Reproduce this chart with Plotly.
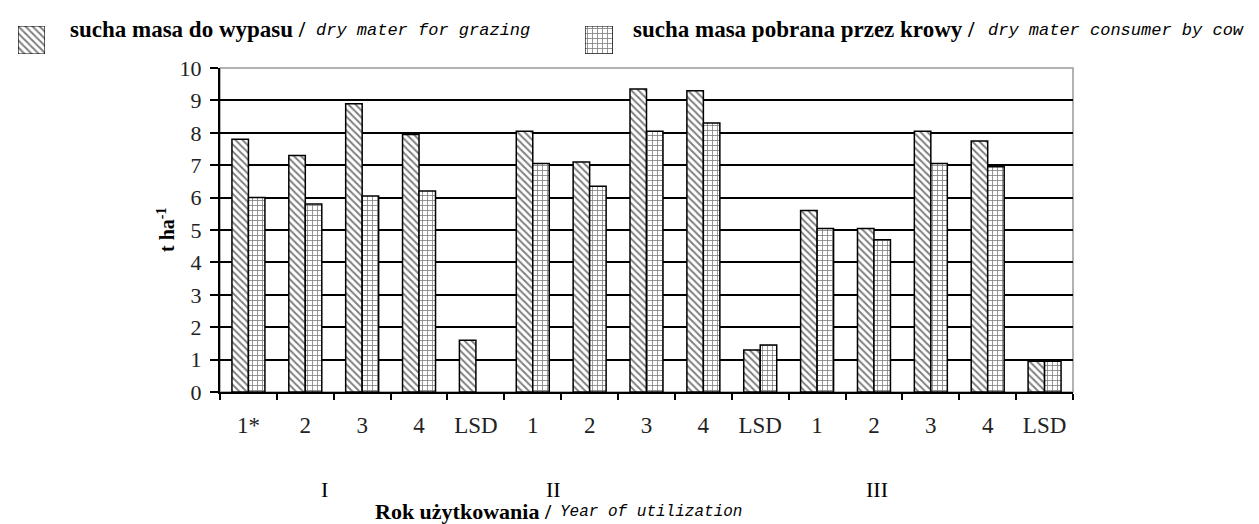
import plotly.graph_objects as go

categories = ["1*", "2", "3", "4", "LSD", "1", "2", "3", "4", "LSD", "1", "2", "3", "4", "LSD"]
grazing = [7.8, 7.3, 8.9, 7.95, 1.6, 8.05, 7.1, 9.35, 9.3, 1.3, 5.6, 5.05, 8.05, 7.75, 0.95]
consumed = [6.0, 5.8, 6.05, 6.2, None, 7.05, 6.35, 8.05, 8.3, 1.45, 5.05, 4.7, 7.05, 6.95, 0.95]
groups = ["I", "II", "III"]
group_pos = [1.33, 5.37, 11.06]
y_ticks = [0, 1, 2, 3, 4, 5, 6, 7, 8, 9, 10]
series_bold = ["sucha masa do wypasu /", "sucha masa pobrana przez krowy /"]
series_italic = ["dry mater for grazing", "dry mater consumer by cow"]

W, H = 1259, 524
xs = list(range(len(categories)))
serif = "Liberation Serif, Times New Roman, serif"
mono = "Liberation Mono, Courier New, monospace"

def fx(px):
    return px / W

def fy(py):
    return 1 - py / H

PL, PR, PT, PB = 212, 1065, 60, 384

diag = dict(shape="\\", fgcolor="black", bgcolor="white", size=5, solidity=0.4)
grid = dict(shape="+", fgcolor="black", bgcolor="white", size=5, solidity=0.3)

fig = go.Figure()
fig.add_trace(go.Bar(
    x=xs, y=grazing, name=series_bold[0] + " " + series_italic[0],
    marker=dict(color="white", line=dict(color="black", width=1.5), pattern=diag),
    showlegend=False,
))
fig.add_trace(go.Bar(
    x=xs, y=consumed, name=series_bold[1] + " " + series_italic[1],
    marker=dict(color="white", line=dict(color="black", width=1.5), pattern=grid),
    showlegend=False,
))

# legend swatches (single pattern-filled boxes on small hidden axes)
fig.add_trace(go.Bar(x=[0], y=[1], width=[1], xaxis="x2", yaxis="y2", showlegend=False, hoverinfo="skip",
                     marker=dict(color="white", line=dict(color="black", width=1.2), pattern=diag)))
fig.add_trace(go.Bar(x=[0], y=[1], width=[1], xaxis="x3", yaxis="y3", showlegend=False, hoverinfo="skip",
                     marker=dict(color="white", line=dict(color="black", width=1.2), pattern=grid)))

legend_text_x = [60, 623]
legend_italic_x = [306, 978]
legend_italic_size = [17, 17]
for i in range(2):
    fig.add_annotation(x=fx(legend_text_x[i]), y=fy(21), xref="paper", yref="paper",
                       xanchor="left", yanchor="middle", text="<b>" + series_bold[i] + "</b>",
                       showarrow=False, font=dict(family=serif, size=23, color="black"))
    fig.add_annotation(x=fx(legend_italic_x[i]), y=fy(22), xref="paper", yref="paper",
                       xanchor="left", yanchor="middle", text="<i>" + series_italic[i] + "</i>",
                       showarrow=False, font=dict(family=mono, size=legend_italic_size[i], color="black"))

for g, p in zip(groups, group_pos):
    fig.add_annotation(x=p, y=fy(481), xref="x", yref="paper", yanchor="middle", text=g,
                       showarrow=False, font=dict(family=serif, size=22, color="black"))

fig.add_annotation(x=fx(546), y=fy(503), xref="paper", yref="paper", xanchor="right", yanchor="middle",
                   text="<b>Rok użytkowania /</b>", showarrow=False,
                   font=dict(family=serif, size=22, color="black"))
fig.add_annotation(x=fx(550), y=fy(504), xref="paper", yref="paper", xanchor="left", yanchor="middle",
                   text="<i>Year of utilization</i>", showarrow=False,
                   font=dict(family=mono, size=16, color="black"))

fig.add_annotation(x=fx(144), y=fy(222), xref="paper", yref="paper", textangle=-90,
                   text="<b>t ha<sup>-1</sup></b>", showarrow=False,
                   font=dict(family=serif, size=20, color="black"))

fig.add_shape(type="rect", xref="paper", yref="paper", x0=fx(PL), x1=fx(PR), y0=fy(PB), y1=fy(PT),
              line=dict(color="#999999", width=1.5), layer="below")

fig.update_layout(
    width=W, height=H,
    margin=dict(l=0, r=0, t=0, b=0, autoexpand=False),
    paper_bgcolor="white", plot_bgcolor="white",
    barmode="group", bargap=0.42, bargroupgap=0,
    font=dict(family=serif, color="black"),
    showlegend=False,
    xaxis=dict(
        domain=[fx(PL), fx(PR)],
        range=[-0.5, 14.5], tickmode="array", tickvals=xs, ticktext=categories,
        ticks="", showgrid=False, showline=True, linecolor="black", linewidth=2,
        tickfont=dict(family=serif, size=23, color="#222"), ticklabelstandoff=11,
        minor=dict(tickmode="array", tickvals=[i - 0.5 for i in range(len(categories) + 1)],
                   ticks="outside", ticklen=6, tickwidth=2, tickcolor="black", showgrid=False),
        zeroline=False,
    ),
    yaxis=dict(
        domain=[fy(PB), fy(PT)],
        range=[0, 10], tickmode="array", tickvals=y_ticks,
        showgrid=True, gridcolor="black", gridwidth=2,
        showline=True, linecolor="black", linewidth=2,
        ticks="outside", ticklen=8, tickwidth=2, tickcolor="black",
        tickfont=dict(family=serif, size=22, color="#222"), ticklabelstandoff=4,
        zeroline=False,
    ),
    xaxis2=dict(domain=[fx(10), fx(37)], range=[-0.5, 0.5], visible=False, anchor="y2", fixedrange=True),
    yaxis2=dict(domain=[fy(46), fy(18)], range=[0, 1], visible=False, anchor="x2", fixedrange=True),
    xaxis3=dict(domain=[fx(577), fx(605)], range=[-0.5, 0.5], visible=False, anchor="y3", fixedrange=True),
    yaxis3=dict(domain=[fy(46), fy(18)], range=[0, 1], visible=False, anchor="x3", fixedrange=True),
)

fig.write_html("out.html")
